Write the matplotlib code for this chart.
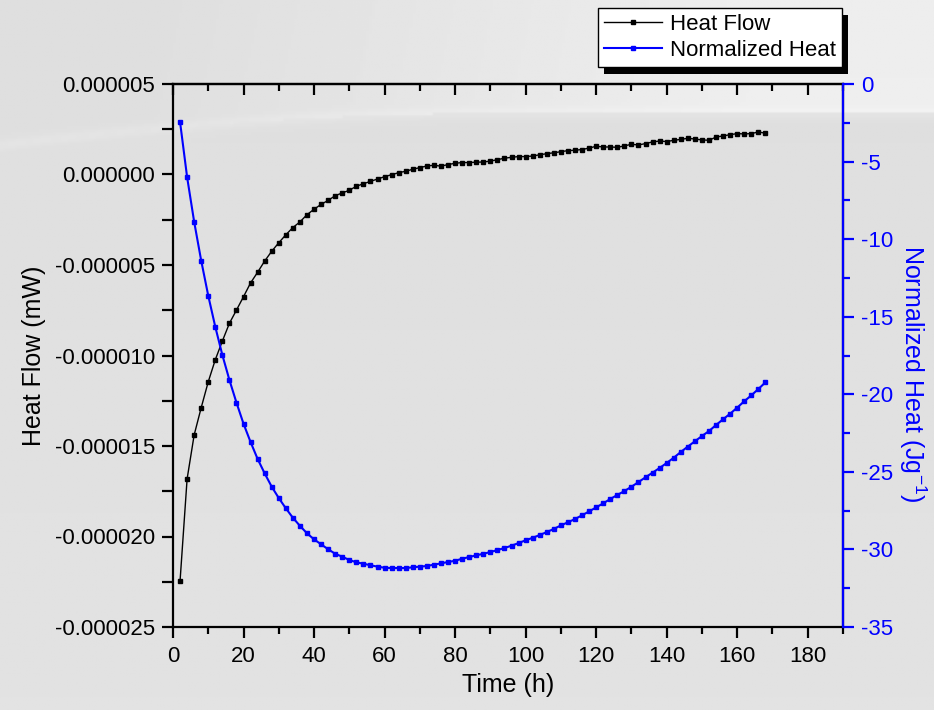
import numpy as np
import matplotlib
matplotlib.use('Agg')
from matplotlib import pyplot as plt
from matplotlib.patches import Rectangle
from matplotlib.ticker import MultipleLocator, FormatStrFormatter

plt.rcParams['font.family'] = ['Liberation Sans', 'DejaVu Sans']
plt.rcParams['axes.unicode_minus'] = False
plt.rcParams['mathtext.default'] = 'regular'

# sampling times (h)
time_h = [2, 4, 6, 8, 10, 12, 14, 16, 18, 20, 22, 24, 26, 28, 30, 32, 34, 36,
          38, 40, 42, 44, 46, 48, 50, 52, 54, 56, 58, 60, 62, 64, 66, 68, 70,
          72, 74, 76, 78, 80, 82, 84, 86, 88, 90, 92, 94, 96, 98, 100, 102,
          104, 106, 108, 110, 112, 114, 116, 118, 120, 122, 124, 126, 128,
          130, 132, 134, 136, 138, 140, 142, 144, 146, 148, 150, 152, 154,
          156, 158, 160, 162, 164, 166, 168]

# heat flow, in units of 1e-6 mW
heat_flow = [-22.46, -16.82, -14.39, -12.88, -11.45, -10.23, -9.2, -8.22,
             -7.49, -6.75, -5.99, -5.40, -4.78, -4.24, -3.77, -3.33, -2.93,
             -2.62, -2.22, -1.92, -1.65, -1.43, -1.17, -1.02, -0.87, -0.65,
             -0.51, -0.38, -0.25, -0.12, -0.01, 0.10, 0.18, 0.29, 0.38, 0.47,
             0.51, 0.46, 0.55, 0.62, 0.66, 0.66, 0.68, 0.69, 0.74, 0.82, 0.9,
             0.95, 0.99, 0.99, 1.02, 1.09, 1.15, 1.2, 1.26, 1.32, 1.34, 1.38,
             1.46, 1.56, 1.52, 1.52, 1.5, 1.58, 1.67, 1.63, 1.71, 1.8, 1.85,
             1.82, 1.89, 1.94, 2.0, 1.96, 1.91, 1.89, 2.07, 2.13, 2.2, 2.26,
             2.24, 2.26, 2.35, 2.28]

# normalized heat (J/g)
norm_heat = [-2.45, -6.0, -8.88, -11.39, -13.65, -15.66, -17.47, -19.08,
             -20.54, -21.9, -23.08, -24.17, -25.1, -25.96, -26.69, -27.35,
             -27.96, -28.48, -28.96, -29.35, -29.67, -29.99, -30.28, -30.47,
             -30.68, -30.83, -30.92, -31.02, -31.11, -31.18, -31.2, -31.2,
             -31.2, -31.15, -31.11, -31.07, -30.98, -30.9, -30.81, -30.73,
             -30.6, -30.49, -30.38, -30.28, -30.17, -30.04, -29.91, -29.76,
             -29.59, -29.41, -29.25, -29.07, -28.88, -28.68, -28.45, -28.25,
             -28.04, -27.8, -27.55, -27.29, -27.03, -26.75, -26.49, -26.24,
             -25.96, -25.66, -25.35, -25.05, -24.75, -24.43, -24.09, -23.72,
             -23.37, -23.03, -22.69, -22.37, -21.98, -21.61, -21.25, -20.86,
             -20.45, -20.07, -19.66, -19.23]

W, H = 934, 710
fig = plt.figure(figsize=(W / 100, H / 100), dpi=100)
fig.patch.set_facecolor('#dedede')

# grey backdrop with a faint pale swoosh near the top
bg = fig.add_axes([0, 0, 1, 1], zorder=-5)
xx, yy = np.meshgrid(np.linspace(0, W, 300), np.linspace(0, H, 240))
edge = 112 + 0.00012 * (520 - np.minimum(xx, 520)) ** 2
d = yy - edge
shade = 0.872 + 0.015 * (yy / H)
shade = shade + np.where(d < 0, 0.06 * np.clip((xx - 150) / 600, 0, 1), 0)
shade = shade + 0.02 * np.exp(-(d / 6.0) ** 2)
bg.imshow(shade, cmap='gray', vmin=0, vmax=1, extent=[0, W, H, 0], aspect='auto')
bg.set_axis_off()

ax = fig.add_axes([173 / W, 1 - 627 / H, (843 - 173) / W, (627 - 84) / H])
ax.patch.set_alpha(0)
ax2 = ax.twinx()

t = np.array(time_h)
l1, = ax.plot(t, np.array(heat_flow) * 1e-6, color='black', lw=1,
              marker='s', ms=3.2, mec='black', mfc='black')
l2, = ax2.plot(t, norm_heat, color='blue', lw=1.5,
               marker='s', ms=3.2, mec='blue', mfc='blue')

ax.set_xlim(0, 190)
ax.set_ylim(-25e-6, 5e-6)
ax2.set_ylim(-35, 0)

ax.xaxis.set_major_locator(MultipleLocator(20))
ax.xaxis.set_minor_locator(MultipleLocator(10))
ax.yaxis.set_major_locator(MultipleLocator(5e-6))
ax.yaxis.set_minor_locator(MultipleLocator(2.5e-6))
ax.yaxis.set_major_formatter(FormatStrFormatter('%.6f'))
ax2.yaxis.set_major_locator(MultipleLocator(5))
ax2.yaxis.set_minor_locator(MultipleLocator(2.5))

for a in (ax, ax2):
    for s in a.spines.values():
        s.set_linewidth(1.6)
ax2.spines['right'].set_color('blue')
ax2.spines['left'].set_visible(False)
ax2.spines['top'].set_visible(False)
ax2.spines['bottom'].set_visible(False)

ax.tick_params(axis='x', which='both', direction='out', top=False,
               labelsize=16, width=1.6, pad=6)
ax.tick_params(axis='x', which='major', length=8)
ax.tick_params(axis='x', which='minor', length=5)
ax.tick_params(axis='y', which='both', direction='out', right=False,
               labelsize=16, width=1.6, length=8, pad=5)

# inward ticks along the top edge
top = ax.secondary_xaxis('top')
top.set_xticks(np.arange(0, 200, 20))
top.xaxis.set_minor_locator(MultipleLocator(10))
top.tick_params(axis='x', which='both', direction='in', width=1.6,
                labeltop=False)
top.tick_params(axis='x', which='major', length=8)
top.tick_params(axis='x', which='minor', length=5)
top.spines['top'].set_linewidth(1.6)

ax2.tick_params(axis='y', which='both', direction='out', colors='blue',
                labelsize=16, width=1.6, pad=5)
ax2.tick_params(axis='y', which='major', length=8)
ax2.tick_params(axis='y', which='minor', length=5)

ax.set_xlabel('Time (h)', fontsize=18, labelpad=4)
ax.set_ylabel('Heat Flow (mW)', fontsize=18, labelpad=6)
ax2.set_ylabel('Normalized Heat (Jg$^{-1}$)', fontsize=18, color='blue',
               rotation=270)
ax2.yaxis.set_label_coords(1.127, 0.466)

leg = fig.legend([l1, l2], ['Heat Flow', 'Normalized Heat'],
                 loc='upper right', bbox_to_anchor=(842 / W, 1 - 8 / H),
                 fontsize=16, frameon=True, fancybox=False, framealpha=1,
                 edgecolor='black', facecolor='white', borderpad=0.25,
                 labelspacing=0.25, handlelength=2.6, handletextpad=0.4,
                 borderaxespad=0)
leg.get_frame().set_linewidth(1.0)

fig.canvas.draw()
bb = leg.get_window_extent().transformed(fig.transFigure.inverted())
shadow = Rectangle((bb.x0 + 6 / W, bb.y0 - 7 / H), bb.width, bb.height,
                   transform=fig.transFigure, facecolor='black',
                   edgecolor='none', zorder=leg.get_zorder() - 0.5)
fig.add_artist(shadow)

fig.savefig('out.png', dpi=100, facecolor=fig.get_facecolor())
